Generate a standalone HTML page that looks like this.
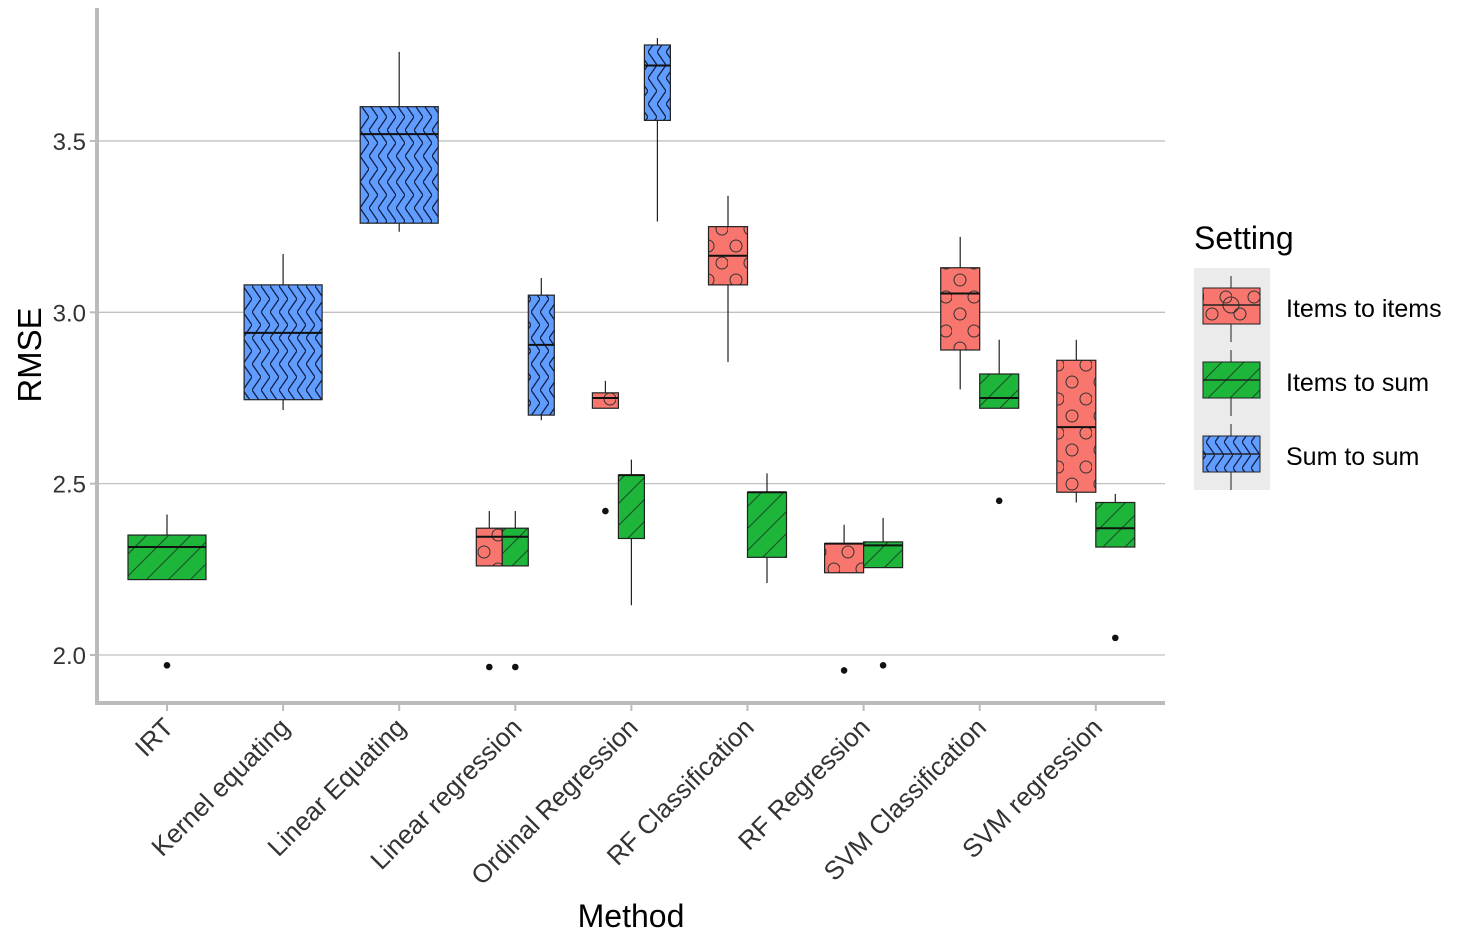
<!DOCTYPE html>
<html><head><meta charset="utf-8"><style>
body{margin:0;background:#fff;}
svg text{font-family:"Liberation Sans",Arial,sans-serif;}
</style></head><body>
<svg id="chart" width="1465" height="938" xmlns="http://www.w3.org/2000/svg">
<defs>
<pattern id="pat-circ" patternUnits="userSpaceOnUse" width="28" height="34">
<rect width="28" height="34" fill="#F8766D"/>
<circle cx="8" cy="8" r="6" fill="none" stroke="#333" stroke-width="1"/>
<circle cx="22" cy="25" r="6" fill="none" stroke="#333" stroke-width="1"/>
</pattern>
<pattern id="pat-line" patternUnits="userSpaceOnUse" width="22" height="22">
<rect width="22" height="22" fill="#1DB53A"/>
<path d="M0 22 L22 0 M-11 11 L11 -11 M11 33 L33 11" stroke="#1a4a22" stroke-width="1"/>
</pattern>
<pattern id="pat-zig" patternUnits="userSpaceOnUse" width="9" height="26">
<rect width="9" height="26" fill="#619CFF"/>
<path d="M0 0 L9 13 L0 26" fill="none" stroke="#10204a" stroke-width="1.3"/>
</pattern>
</defs>
<g id="grid"></g>
<g id="marks"></g>
<g id="axes"></g>
<text x="631" y="927" font-size="32" text-anchor="middle">Method</text>
<text transform="translate(41,355) rotate(-90)" font-size="33" text-anchor="middle">RMSE</text>
<g>
<text x="1194" y="249" font-size="32">Setting</text>
<rect x="1194" y="268" width="76" height="222" fill="#ebebeb"/>
<g>
<line x1="1231" y1="276" x2="1231" y2="342" stroke="#222" stroke-width="1"/>
<rect x="1203" y="288" width="57" height="36" fill="url(#pat-circ)" stroke="#222"/>
<circle cx="1231" cy="305" r="8" fill="none" stroke="#333"/>
<line x1="1203" y1="305" x2="1260" y2="305" stroke="#222" stroke-width="1.5"/>
<text x="1286" y="317" font-size="25">Items to items</text></g>
<g>
<line x1="1231" y1="350" x2="1231" y2="416" stroke="#222" stroke-width="1"/>
<rect x="1203" y="362" width="57" height="36" fill="url(#pat-line)" stroke="#222"/>
<line x1="1203" y1="380" x2="1260" y2="380" stroke="#222" stroke-width="1.5"/>
<text x="1286" y="391" font-size="25">Items to sum</text></g>
<g>
<line x1="1231" y1="424" x2="1231" y2="490" stroke="#222" stroke-width="1"/>
<rect x="1203" y="436" width="57" height="36" fill="url(#pat-zig)" stroke="#222"/>
<line x1="1203" y1="454" x2="1260" y2="454" stroke="#222" stroke-width="1.5"/>
<text x="1286" y="465" font-size="25">Sum to sum</text></g>
</g>
</svg>
<script>
const categories=["IRT","Kernel equating","Linear Equating","Linear regression","Ordinal Regression","RF Classification","RF Regression","SVM Classification","SVM regression"];
const settings=["Items to items","Items to sum","Sum to sum"];
const yTicks=[2.0,2.5,3.0,3.5];
// each box: [category index, setting index, lowerWhisker, q1, median, q3, upperWhisker]
const boxStats=[
[0,1,2.22,2.22,2.315,2.35,2.41],
[1,2,2.715,2.745,2.94,3.08,3.17],
[2,2,3.235,3.26,3.52,3.60,3.76],
[3,0,2.26,2.26,2.345,2.37,2.42],
[3,1,2.26,2.26,2.345,2.37,2.42],
[3,2,2.685,2.70,2.905,3.05,3.10],
[4,0,2.72,2.72,2.75,2.765,2.80],
[4,1,2.145,2.34,2.525,2.525,2.57],
[4,2,3.265,3.56,3.72,3.78,3.80],
[5,0,2.855,3.08,3.165,3.25,3.34],
[5,1,2.21,2.285,2.475,2.475,2.53],
[6,0,2.24,2.24,2.325,2.325,2.38],
[6,1,2.255,2.255,2.32,2.33,2.40],
[7,0,2.775,2.89,3.055,3.13,3.22],
[7,1,2.72,2.72,2.75,2.82,2.92],
[8,0,2.445,2.475,2.665,2.86,2.92],
[8,1,2.315,2.315,2.37,2.445,2.47]
];
// outliers: [category index, setting index, value]
const outliers=[[0,1,1.97],[3,0,1.965],[3,1,1.965],[4,0,2.42],[6,0,1.955],[6,1,1.97],[7,1,2.45],[8,1,2.05]];

const NS="http://www.w3.org/2000/svg";
const X0=97,X1=1165,Y0=8,Y1=703;
const y=v=>655-(v-2)*342.7;
const xc=i=>167+i*116.1;
const fills=["url(#pat-circ)","url(#pat-line)","url(#pat-zig)"];
const names=["items-to-items","items-to-sum","sum-to-sum"];
function mk(tag,attrs,parent){const e=document.createElementNS(NS,tag);for(const k in attrs)e.setAttribute(k,attrs[k]);parent.appendChild(e);return e;}
const grid=document.getElementById('grid'),marks=document.getElementById('marks'),axes=document.getElementById('axes');
yTicks.forEach(t=>{
 const l=mk('line',{x1:X0,x2:X1,y1:y(t),y2:y(t),stroke:'#c0c0c0','stroke-width':1.3},grid);
 
 
 const tx=mk('text',{x:86,y:y(t)+9,'font-size':24,'text-anchor':'end',fill:'#333'},axes);
 tx.textContent=t.toFixed(1);
 
 
 mk('line',{x1:90,x2:97,y1:y(t),y2:y(t),stroke:'#bbb','stroke-width':2},axes);
});
function layout(ci,si){
 const present=boxStats.filter(b=>b[0]===ci).map(b=>b[1]).sort();
 const n=present.length,w=78/n,k=present.indexOf(si);
 return {cx:xc(ci)-39+w*(k+0.5),w:w};
}
boxStats.forEach(b=>{
 const [ci,si,lo,q1,md,q3,hi]=b;const L=layout(ci,si);
 const g=mk('g',{},marks);
 
 
 mk('line',{x1:L.cx,x2:L.cx,y1:y(hi),y2:y(lo),stroke:'#222','stroke-width':1.2},g);
 mk('rect',{x:L.cx-L.w/2,y:y(q3),width:L.w,height:Math.max(1,y(q1)-y(q3)),fill:fills[si],stroke:'#222','stroke-width':1.2},g);
 mk('line',{x1:L.cx-L.w/2,x2:L.cx+L.w/2,y1:y(md),y2:y(md),stroke:'#111','stroke-width':2},g);
});
outliers.forEach(o=>{
 const L=layout(o[0],o[1]);
 const c=mk('circle',{cx:L.cx,cy:y(o[2]),r:3.3,fill:'#111'},marks);
 
 
});
mk('line',{x1:X0,x2:X0,y1:Y0,y2:Y1+2,stroke:'#bbb','stroke-width':4},axes);
mk('line',{x1:X0-2,x2:X1,y1:Y1,y2:Y1,stroke:'#bbb','stroke-width':4},axes);
categories.forEach((c,i)=>{
 mk('line',{x1:xc(i),x2:xc(i),y1:Y1,y2:Y1+8,stroke:'#bbb','stroke-width':2},axes);
 const t=mk('text',{transform:`translate(${xc(i)+8},${Y1+26}) rotate(-45)`,'font-size':26,'text-anchor':'end',fill:'#333'},axes);
 t.textContent=c;
 
 
});
</script>
</body></html>
